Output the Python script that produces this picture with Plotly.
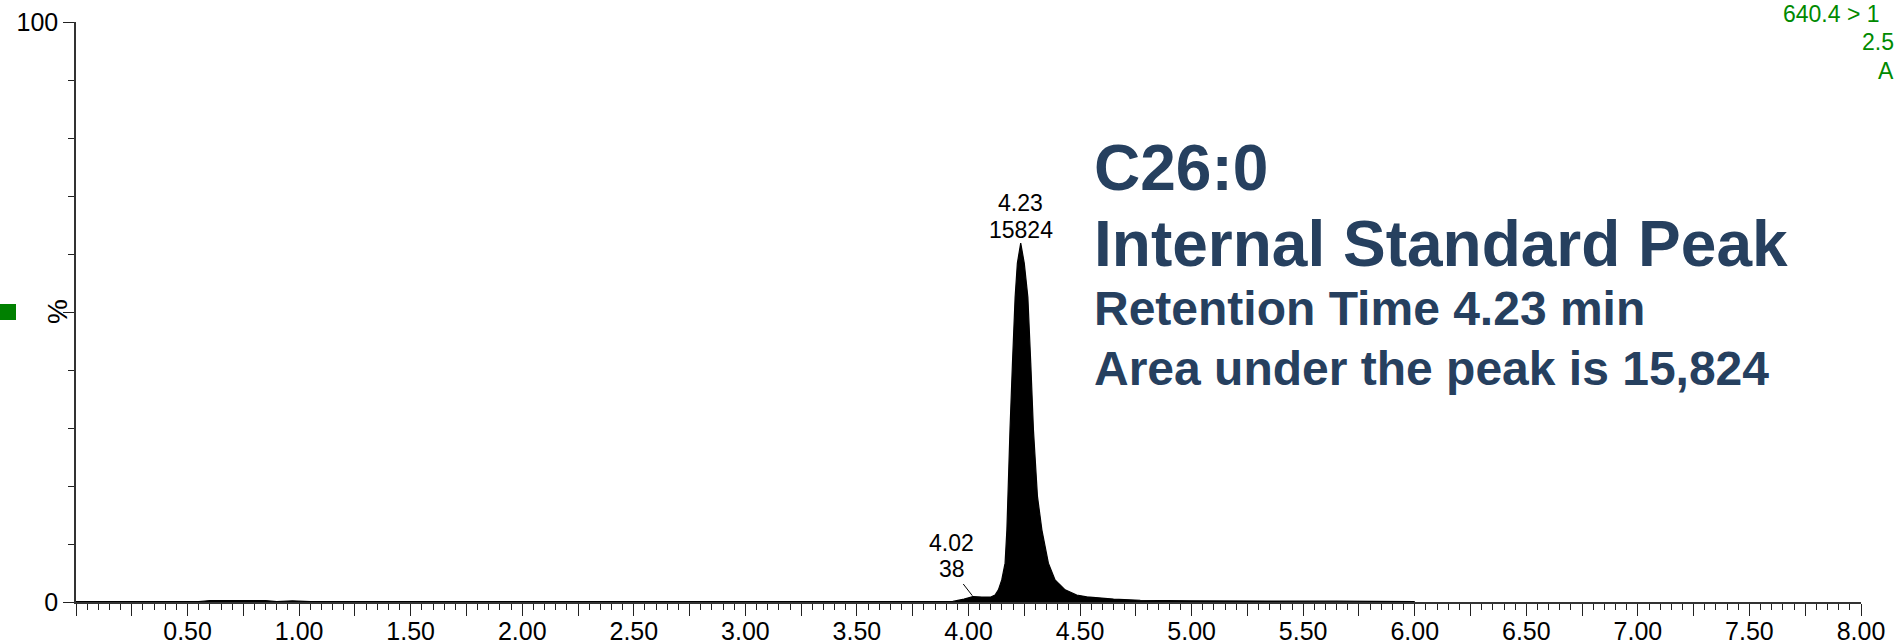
import plotly.graph_objects as go

# ---------------- data ----------------
retention_time = [0.00, 0.55, 0.60, 0.85, 0.90, 0.97, 1.05, 2.20, 2.30, 3.50,
                  3.93, 3.98, 4.02, 4.06, 4.10, 4.119, 4.134, 4.149, 4.164, 4.172,
                  4.176, 4.186, 4.197, 4.209, 4.219, 4.234, 4.250, 4.266, 4.279, 4.291,
                  4.309, 4.329, 4.358, 4.388, 4.433, 4.485, 4.530, 4.600, 4.650, 4.770,
                  5.000, 5.650, 6.000]
intensity_pct = [0.05, 0.05, 0.25, 0.25, 0.05, 0.20, 0.05, 0.05, 0.15, 0.05,
                 0.10, 0.50, 0.95, 0.85, 0.85, 1.20, 2.10, 3.80, 6.70, 12.4,
                 18.2, 29.7, 41.2, 52.6, 58.4, 61.9, 58.4, 52.6, 41.2, 29.7,
                 18.2, 12.4, 6.70, 3.80, 2.10, 1.20, 0.90, 0.70, 0.50, 0.30,
                 0.20, 0.15, 0.05]

main_peak_rt = 4.234
main_peak_height = 61.9
main_peak_label_rt = "4.23"
main_peak_label_area = "15824"

minor_peak_rt = 4.02
minor_peak_height = 0.95
minor_peak_label_rt = "4.02"
minor_peak_label_area = "38"

x_tick_values = [i * 0.25 for i in range(33)]
x_labelled = {0.5: "0.50", 1.0: "1.00", 1.5: "1.50", 2.0: "2.00", 2.5: "2.50",
              3.0: "3.00", 3.5: "3.50", 4.0: "4.00", 4.5: "4.50", 5.0: "5.00",
              5.5: "5.50", 6.0: "6.00", 6.5: "6.50", 7.0: "7.00", 7.5: "7.50",
              8.0: "8.00"}
x_tick_labels = [x_labelled.get(round(v, 2), "") for v in x_tick_values]

y_tick_values = [0, 50, 100]
y_tick_labels = ["0", "", "100"]

title_lines = ["C26:0", "Internal Standard Peak"]
info_lines = ["Retention Time 4.23 min", "Area under the peak is 15,824"]
header_lines = ["640.4 > 1", "2.5", "A"]

# ---------------- layout helpers ----------------
W, H = 1897, 644
PL, PR, PT, PB = 76, 1861, 22, 602


def pxx(px):
    return (px - PL) / (PR - PL)


def pxy(py):
    return (PB - py) / (PB - PT)


FONT = "Arial, Liberation Sans, sans-serif"
NAVY = "#26405F"
GREEN = "#008A00"

fig = go.Figure()
fig.add_trace(go.Scatter(
    x=retention_time, y=intensity_pct, mode="lines",
    line=dict(color="black", width=1.2),
    fill="tozeroy", fillcolor="black",
    hoverinfo="x+y", showlegend=False,
))

annotations = []
# main peak label
annotations.append(dict(x=main_peak_rt, y=main_peak_height, xref="x", yref="y",
                        text=main_peak_label_rt, showarrow=False, yanchor="middle",
                        yshift=40, font=dict(family=FONT, size=23, color="black")))
annotations.append(dict(x=main_peak_rt, y=main_peak_height, xref="x", yref="y",
                        text=main_peak_label_area, showarrow=False, yanchor="middle",
                        yshift=13, font=dict(family=FONT, size=23, color="black")))
# minor peak label with leader line
annotations.append(dict(x=minor_peak_rt, y=minor_peak_height, xref="x", yref="y",
                        text=minor_peak_label_area, showarrow=True, arrowhead=0,
                        arrowwidth=1, arrowcolor="black", ax=-21, ay=-27,
                        axref="pixel", ayref="pixel", standoff=1,
                        font=dict(family=FONT, size=23, color="black")))
annotations.append(dict(x=minor_peak_rt, y=minor_peak_height, xref="x", yref="y",
                        text=minor_peak_label_rt, showarrow=False, yanchor="middle",
                        xshift=-21, yshift=53,
                        font=dict(family=FONT, size=23, color="black")))

# big explanatory text
for txt, cy, size in [(title_lines[0], 168, 64), (title_lines[1], 244, 64),
                      (info_lines[0], 308, 48), (info_lines[1], 368, 48)]:
    annotations.append(dict(x=pxx(1092), y=pxy(cy), xref="paper", yref="paper",
                            text=txt, showarrow=False, xanchor="left", yanchor="middle",
                            font=dict(family=FONT, size=size, color=NAVY, weight="bold")))

# green header (cut by the page edge in the reference; kept fully visible here)
for txt, rx, cy in [(header_lines[0], 1882, 14), (header_lines[1], 1896, 42),
                    (header_lines[2], 1896, 71)]:
    annotations.append(dict(x=pxx(rx), y=pxy(cy), xref="paper", yref="paper",
                            text=txt, showarrow=False, xanchor="right", yanchor="middle",
                            font=dict(family=FONT, size=23, color=GREEN)))

# y-axis "%" label
annotations.append(dict(x=pxx(57), y=0.5, xref="paper", yref="paper", text="%",
                        showarrow=False, textangle=-90, xanchor="center", yanchor="middle",
                        font=dict(family=FONT, size=28, color="black")))

shapes = [dict(type="rect", xref="paper", yref="paper",
               xsizemode="pixel", ysizemode="pixel", xanchor=0, yanchor=0.5,
               x0=-PL, x1=-PL + 16, y0=-8, y1=8,
               fillcolor="#008000", line=dict(width=0))]

fig.update_layout(
    width=W, height=H,
    margin=dict(l=PL, r=W - PR, t=PT, b=H - PB, pad=0, autoexpand=False),
    paper_bgcolor="white", plot_bgcolor="white",
    showlegend=False,
    annotations=annotations, shapes=shapes,
    font=dict(family=FONT, color="black"),
    xaxis=dict(range=[0, 8], showgrid=False, zeroline=False, automargin=False,
               showline=True, linecolor="#333333", linewidth=1.5,
               tickmode="array", tickvals=x_tick_values, ticktext=x_tick_labels,
               ticks="outside", ticklen=12, tickwidth=1, tickcolor="#222222",
               ticklabelstandoff=-6,
               tickfont=dict(family=FONT, size=25, color="black"),
               minor=dict(dtick=0.05, tick0=0, ticks="outside", ticklen=6,
                          tickwidth=1, tickcolor="#222222", showgrid=False)),
    yaxis=dict(range=[0, 100], showgrid=False, zeroline=False, automargin=False,
               showline=True, linecolor="#333333", linewidth=1.5,
               tickmode="array", tickvals=y_tick_values, ticktext=y_tick_labels,
               ticks="outside", ticklen=11, tickwidth=1, tickcolor="#222222",
               tickfont=dict(family=FONT, size=25, color="black"),
               minor=dict(dtick=10, tick0=0, ticks="outside", ticklen=6,
                          tickwidth=1, tickcolor="#222222", showgrid=False)),
)

fig.write_html(
    "out.html",
    config={"displayModeBar": False},
    post_script="document.body.style.margin='0';document.body.style.overflow='hidden';",
)
